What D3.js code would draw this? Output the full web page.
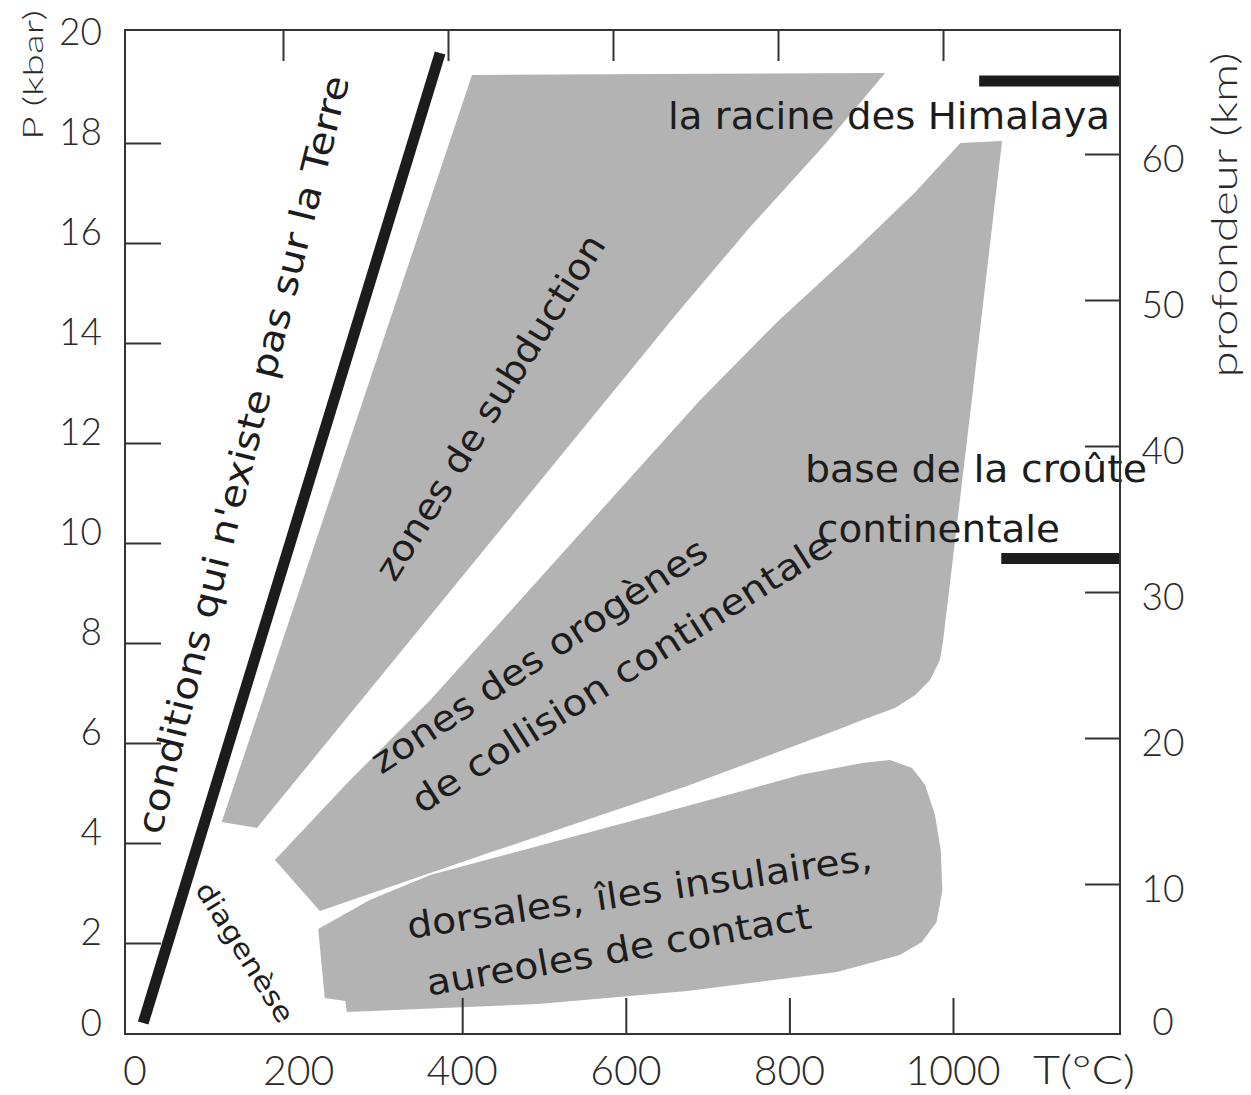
<!DOCTYPE html>
<html>
<head>
<meta charset="utf-8">
<script src="https://cdn.jsdelivr.net/npm/d3@7"></script>
<style>
	body { margin: 0; background: #fff; }
</style>
</head>
<body>
<div id="chart"></div>
<script>
// axis ticks
const tempTickLabels = [0, 200, 400, 600, 800, 1000];
const tempTicksBottom = [400, 600, 800, 1000];
const tempTicksTop = [200, 400, 600, 800, 1000];
const pressureTicks = [2, 4, 6, 8, 10, 12, 14, 16, 18];
const pressureLabels = [0, 2, 4, 6, 8, 10, 12, 14, 16, 18, 20];
const depthTicks = [10, 20, 30, 40, 50, 60];
const depthLabels = [0, 10, 20, 30, 40, 50, 60];

// zones, as [T (°C), P (kbar)]
const subductionZone = [
	[412, 19.36], [917, 19.4], [845, 18.0], [752, 16.32], [666, 14.66],
	[149, 4.3], [106, 4.42]
];
const collisionZone = [
	[1009, 18.0], [1060, 18.04], [1023, 12.86], [988, 8.06], [984, 7.66],
	[972, 7.26], [954, 6.96], [929, 6.7], [886, 6.44], [858, 6.26],
	[675, 5.14], [432, 3.8], [226, 2.64], [171, 3.66], [263, 5.26],
	[361, 6.86], [471, 8.86], [581, 10.86], [691, 12.86], [785, 14.42],
	[874, 15.76], [954, 17.02]
];
const ridgeZone = [
	[224, 2.28], [287, 2.86], [361, 3.36], [493, 3.94], [675, 4.74],
	[813, 5.36], [889, 5.6], [923, 5.66], [950, 5.5], [966, 5.16],
	[978, 4.56], [985, 3.86], [987, 3.06], [980, 2.42], [962, 2.02],
	[935, 1.76], [858, 1.42], [675, 1.04], [493, 0.78], [259, 0.62],
	[257, 0.84], [232, 0.9]
];
const impossibleLine = [[10, 0.4], [373, 19.8]];

// depth markers (km) and where they start (°C)
const himalayaRootDepth = 65;
const himalayaRootStartT = 1032;
const crustBaseDepth = 32.3;
const crustBaseStartT = 1059;

var width = 1251, height = 1095;
var box = { left: 125, right: 1120, top: 30, bottom: 1034 };

var svg = d3.select('#chart').append('svg')
	.attr('width', width)
	.attr('height', height)
	.style('font-family', 'Lato, "DejaVu Sans", sans-serif');

svg.append('rect').attr('width', width).attr('height', height).attr('fill', '#fff');

var x = d3.scaleLinear().domain([0, 1000]).range([135, 953]);
var xTop = d3.scaleLinear().domain([0, 1000]).range([118, 943]);
var y = d3.scaleLinear().domain([0, 20]).range([1043, 43]);
var yDepth = d3.scaleLinear().domain([0, 60]).range([1030, 154]);

var line = d3.line().x(d => x(d[0])).y(d => y(d[1]));
var grey = '#b3b3b3', ink = '#1c1c1c';
var handFont = '"DejaVu Sans", sans-serif';

[subductionZone, collisionZone, ridgeZone].forEach(function (zone) {
	svg.append('path').attr('d', line(zone) + 'Z').attr('fill', grey);
});

// labels inside the chart
function note(txt, px, py, angle, size, len, anchor) {
	var t = svg.append('text')
		.attr('transform', 'translate(' + px + ',' + py + ') rotate(' + angle + ')')
		.attr('text-anchor', anchor || 'middle')
		.attr('font-family', handFont)
		.attr('font-size', size)
		.attr('fill', ink)
		.text(txt);
	if (len) t.attr('textLength', len).attr('lengthAdjust', 'spacingAndGlyphs');
	return t;
}

note("conditions qui n'existe pas sur la Terre", x(134), y(11.76), -76, 36, 780).attr('dy', '0.3em');
note('zones de subduction', x(436), y(12.7), -58, 36, 400).attr('dy', '0.3em');
note('zones des orogènes', x(495), y(7.72), -33.5, 36, 395).attr('dy', '0.3em');
note('de collision continentale', x(596), y(7.38), -32.4, 36, 490).attr('dy', '0.3em');
note('la racine des Himalaya', 668, yDepth(himalayaRootDepth) + 48, 0, 38, 442, 'start');
note('base de la croûte', 805, 482, 0, 38, 342, 'start');
note('continentale', 817, 542, 0, 38, 243, 'start');
note('dorsales, îles insulaires,', x(619), y(2.78), -8.5, 36, 470);
note('aureoles de contact', x(594), y(1.62), -10, 36, 390);
note('diagenèse', x(133), y(1.8), 58, 27, 160).attr('dy', '0.3em');

// thick lines
svg.append('path').attr('d', line(impossibleLine))
	.attr('stroke', ink).attr('stroke-width', 11).attr('fill', 'none');

[[himalayaRootDepth, himalayaRootStartT], [crustBaseDepth, crustBaseStartT]].forEach(function (b) {
	svg.append('line')
		.attr('x1', x(b[1])).attr('x2', box.right)
		.attr('y1', yDepth(b[0])).attr('y2', yDepth(b[0]))
		.attr('stroke', ink).attr('stroke-width', 11);
});

// frame and ticks
var axisColor = '#333';
function styleAxis(g) {
	g.select('.domain').remove();
	g.selectAll('.tick line').attr('stroke', axisColor).attr('stroke-width', 2);
	g.selectAll('.tick text').remove();
}
svg.append('g').attr('transform', 'translate(' + box.left + ',0)')
	.call(d3.axisRight(y).tickValues(pressureTicks).tickSize(36)).call(styleAxis);
svg.append('g').attr('transform', 'translate(' + box.right + ',0)')
	.call(d3.axisLeft(yDepth).tickValues(depthTicks).tickSize(35)).call(styleAxis);
svg.append('g').attr('transform', 'translate(0,' + box.bottom + ')')
	.call(d3.axisTop(x).tickValues(tempTicksBottom).tickSize(36)).call(styleAxis);
svg.append('g').attr('transform', 'translate(0,' + box.top + ')')
	.call(d3.axisBottom(xTop).tickValues(tempTicksTop).tickSize(31)).call(styleAxis);

svg.append('rect')
	.attr('x', box.left).attr('y', box.top)
	.attr('width', box.right - box.left).attr('height', box.bottom - box.top)
	.attr('fill', 'none').attr('stroke', axisColor).attr('stroke-width', 2);

// tick labels
var tickInk = '#2a2a2a';
svg.append('g').selectAll('text').data(pressureLabels).join('text')
	.attr('x', 102).attr('y', d => y(d) - (d === 0 ? 20 : 11))
	.attr('dy', '0.36em').attr('text-anchor', 'end')
	.attr('font-size', 37).attr('font-weight', 300).attr('fill', tickInk)
	.text(d => d);
svg.append('g').selectAll('text').data(tempTickLabels).join('text')
	.attr('x', d => x(d)).attr('y', 1070)
	.attr('dy', '0.36em').attr('text-anchor', 'middle')
	.attr('font-size', 41).attr('font-weight', 300).attr('fill', tickInk)
	.text(d => d);
svg.append('g').selectAll('text').data(depthLabels).join('text')
	.attr('x', 1163).attr('y', d => yDepth(d) + (d === 0 ? -8 : 5))
	.attr('dy', '0.36em').attr('text-anchor', 'middle')
	.attr('font-size', 37).attr('font-weight', 300).attr('fill', tickInk)
	.text(d => d);

// axis titles
svg.append('text').attr('x', 1033).attr('y', 1070).attr('dy', '0.36em')
	.attr('font-size', 40).attr('font-weight', 300).attr('fill', tickInk)
	.attr('textLength', 102).attr('lengthAdjust', 'spacingAndGlyphs')
	.text('T(°C)');
svg.append('text').attr('transform', 'translate(33,75) rotate(-90)')
	.attr('dy', '0.36em').attr('text-anchor', 'middle')
	.attr('font-size', 28).attr('font-weight', 300).attr('fill', tickInk)
	.attr('textLength', 130).attr('lengthAdjust', 'spacingAndGlyphs')
	.text('P (kbar)');
svg.append('text').attr('transform', 'translate(1224,215) rotate(-90)')
	.attr('dy', '0.36em').attr('text-anchor', 'middle')
	.attr('font-size', 36).attr('font-weight', 300).attr('fill', tickInk)
	.attr('textLength', 325).attr('lengthAdjust', 'spacingAndGlyphs')
	.text('profondeur (km)');
</script>
</body>
</html>
